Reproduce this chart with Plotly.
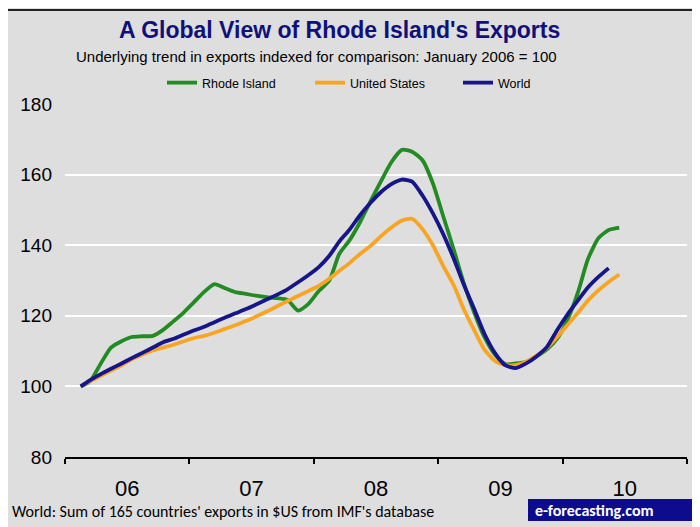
import plotly.graph_objects as go
import pandas as pd

months = pd.date_range("2006-01-16", periods=53, freq="MS") + pd.Timedelta(days=15)
months = [d.strftime("%Y-%m-%d") for d in months]

rhode_island = [100, 101.5, 106.5, 111, 112.8, 114, 114.2, 114.3, 116, 118.5, 121, 124,
                127, 129, 127.8, 126.7, 126.2, 125.7, 125.3, 125, 124.5, 121.5, 123.3, 127,
                130, 137.5, 141.5, 146.5, 152.5, 158, 163.5, 167, 166.5, 164, 157.5, 148,
                138.5, 129.5, 121, 114, 109, 106.3, 106.5, 107, 108.5, 110.5, 113.5, 119,
                127, 136, 142, 144.3, 145]
united_states = [100, 101.5, 103, 104.5, 106, 107.7, 109, 110.2, 111, 111.8, 112.8, 113.7,
                 114.4, 115.2, 116.3, 117.3, 118.5, 119.8, 121.2, 122.7, 124.2, 125.6, 127, 128.5,
                 130.5, 132.7, 135, 137.5, 139.8, 142.5, 145, 147, 147.5, 144.5, 140, 134,
                 128.5, 122, 116, 110.5, 107.2, 106, 106, 107, 108.7, 111, 114, 117.5,
                 121, 124.3, 127.2, 129.6, 131.7]
world = [100, 101.8, 103.5, 105, 106.5, 108, 109.5, 111, 112.5, 113.5, 114.7, 115.9,
         117, 118.2, 119.5, 120.7, 121.9, 123.2, 124.6, 126, 127.5, 129.5, 131.5, 133.8,
         137, 141, 144.5, 148.5, 152, 155, 157.3, 158.6, 158, 154, 149, 143,
         136, 129, 122, 115, 109.5, 106, 105.2, 106.5, 108.5, 111.2, 116, 120.5,
         124.5, 128, 131, 133.5]

series = [
    ("Rhode Island", rhode_island, "#238b23"),
    ("United States", united_states, "#f8a523"),
    ("World", world, "#16168a"),
]

fig = go.Figure()
for name, vals, color in series:
    fig.add_trace(go.Scatter(
        x=months[:len(vals)], y=vals, name=name, mode="lines",
        line=dict(color=color, width=3.8, shape="spline", smoothing=0.6),
    ))

OFF = 8  # page offset of the figure
W, H = 700, 527
L, R, T, B = 57, 21, 96, 78
pw, ph = W - L - R, H - T - B

def px(x):  # page pixel -> paper x
    return (x - OFF - L) / pw

def py(y):  # page pixel -> paper y
    return (H - B - (y - OFF)) / ph

bg = "#dedede"
fig.update_layout(
    width=W, height=H,
    margin=dict(l=L, r=R, t=T, b=B, autoexpand=False),
    paper_bgcolor=bg, plot_bgcolor=bg,
    font=dict(family="Liberation Sans, Arial, sans-serif", color="black"),
    showlegend=True,
    legend=dict(orientation="h", x=px(162), y=py(83), xanchor="left", yanchor="middle",
                entrywidth=103, entrywidthmode="pixels", bgcolor="rgba(0,0,0,0)",
                font=dict(size=12.5, family="Liberation Sans, Arial, sans-serif"),
                itemclick=False),
    xaxis=dict(type="date", range=["2006-01-01", "2011-01-01"], dtick="M12",
               tick0="2006-01-01", tickformat="%y", ticklabelmode="period",
               showgrid=False, showline=True, linecolor="black", linewidth=1.5,
               ticks="outside", ticklen=5, tickcolor="black", tickwidth=1.5,
               tickfont=dict(size=22),
               ticklabelstandoff=6, zeroline=False),
    yaxis=dict(range=[80, 180], dtick=20, showgrid=True, gridcolor="white", gridwidth=2,
               showline=False, zeroline=False, ticks="", ticklabelstandoff=12,
               tickfont=dict(size=19)),
)

shapes = [
    dict(type="line", xref="paper", yref="paper", x0=px(8), x1=px(W + 10), y0=py(10), y1=py(10),
         line=dict(color="#222222", width=2)),
    dict(type="rect", xref="paper", yref="paper", x0=px(528), x1=px(W + 10), y0=py(521), y1=py(499),
         fillcolor="#0c0c8c", line=dict(width=0)),
]
fig.update_layout(shapes=shapes)

annotations = [
    dict(text="<b>A Global View of Rhode Island's Exports</b>", x=px(339), y=py(30),
         xref="paper", yref="paper", showarrow=False, xanchor="center", yanchor="middle",
         font=dict(size=23, color="#10107a")),
    dict(text="Underlying trend in exports indexed for comparison: January 2006 = 100",
         x=px(316), y=py(57), xref="paper", yref="paper", showarrow=False,
         xanchor="center", yanchor="middle",
         font=dict(size=15, color="black")),
    dict(text="World: Sum of 165 countries' exports in $US from IMF's database",
         x=px(10), y=py(511), xref="paper", yref="paper", showarrow=False,
         xanchor="left", yanchor="middle",
         font=dict(size=16, color="black", family="Carlito, Lato, Liberation Sans")),
    dict(text="<b>e-forecasting.com</b>", x=px(533), y=py(510), xref="paper", yref="paper",
         showarrow=False, xanchor="left", yanchor="middle",
         font=dict(size=16, color="white", family="Carlito, Lato, Liberation Sans")),
]
fig.update_layout(annotations=annotations)

fig.write_html("out.html")
